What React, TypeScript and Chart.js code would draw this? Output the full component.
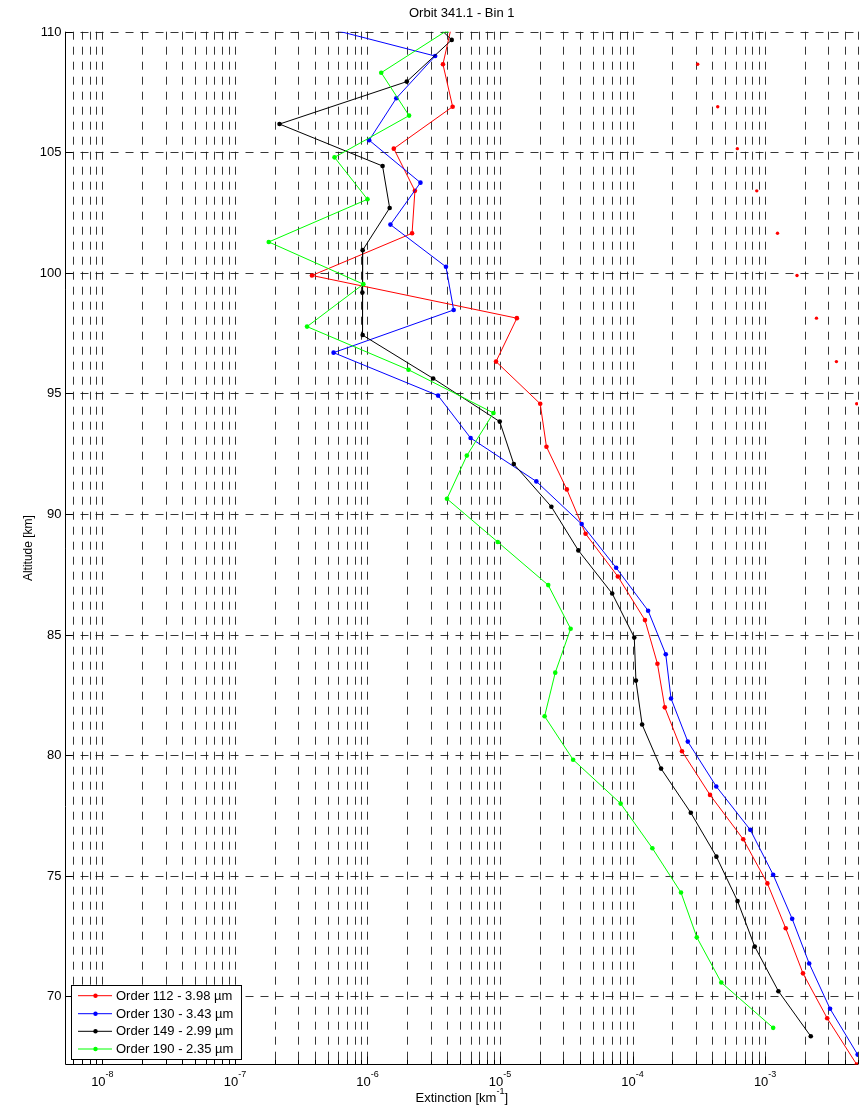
import React, { useEffect, useRef } from "react";
import { Chart, registerables } from "chart.js";

Chart.register(...registerables);

// ---- Text ----
const TITLE = "Orbit 341.1 - Bin 1";
const X_LABEL = "Extinction [km";
const X_LABEL_EXP = "-1";
const X_LABEL_END = "]";
const Y_LABEL = "Altitude [km]";

// ---- Axes ----
const X_MIN = 5.27e-9;
const X_MAX = 5.02e-3;
const Y_MIN = 67.17;
const Y_MAX = 110;
const Y_TICKS = [70, 75, 80, 85, 90, 95, 100, 105, 110];
const X_DECADES = [-8, -7, -6, -5, -4, -3];

// ---- Series ----
const SERIES_LABELS = [
  "Order 112 - 3.98 µm",
  "Order 130 - 3.43 µm",
  "Order 149 - 2.99 µm",
  "Order 190 - 2.35 µm",
];
const SERIES_COLORS = ["#ff0000", "#0000ff", "#000000", "#00ff00"];

// Order 112 (altitude km, extinction km^-1)
const ALT_112 = [110.41, 108.65, 106.89, 105.15, 103.4, 101.64, 99.89, 98.12, 96.32, 94.57, 92.79, 91.02, 89.18, 87.41, 85.6, 83.79, 81.98, 80.16, 78.35, 76.51, 74.68, 72.82, 70.95, 69.09, 67.17];
const EXT_112 = [4.38e-6, 3.71e-6, 4.39e-6, 1.58e-6, 2.28e-6, 2.17e-6, 3.81e-7, 1.34e-5, 9.33e-6, 2.01e-5, 2.24e-5, 3.19e-5, 4.42e-5, 7.74e-5, 1.24e-4, 1.54e-4, 1.75e-4, 2.36e-4, 3.84e-4, 6.84e-4, 1.04e-3, 1.43e-3, 1.93e-3, 2.94e-3, 4.91e-3];

// Order 112, loose markers (no connecting line)
const ALT_112_PTS = [108.65, 106.89, 105.15, 103.4, 101.64, 99.89, 98.12, 96.32, 94.57];
const EXT_112_PTS = [3.1e-4, 4.39e-4, 6.17e-4, 8.65e-4, 1.24e-3, 1.74e-3, 2.44e-3, 3.45e-3, 4.91e-3];

// Order 130
const ALT_130 = [110.73, 108.99, 107.24, 105.5, 103.74, 102.0, 100.25, 98.46, 96.69, 94.91, 93.15, 91.35, 89.58, 87.77, 85.99, 84.18, 82.35, 80.56, 78.7, 76.9, 75.04, 73.21, 71.36, 69.48, 67.58];
const EXT_130 = [1.93e-7, 3.24e-6, 1.65e-6, 1.03e-6, 2.51e-6, 1.49e-6, 3.91e-6, 4.47e-6, 5.55e-7, 3.41e-6, 6.0e-6, 1.88e-5, 4.13e-5, 7.52e-5, 1.31e-4, 1.78e-4, 1.95e-4, 2.61e-4, 4.28e-4, 7.73e-4, 1.15e-3, 1.6e-3, 2.15e-3, 3.09e-3, 4.99e-3];

// Order 149
const ALT_149 = [111.4, 109.66, 107.93, 106.17, 104.43, 102.69, 100.94, 99.18, 97.42, 95.62, 93.83, 92.07, 90.3, 88.49, 86.7, 84.88, 83.09, 81.27, 79.44, 77.61, 75.79, 73.95, 72.06, 70.21, 68.34];
const EXT_149 = [2.03e-6, 4.32e-6, 1.98e-6, 2.17e-7, 1.3e-6, 1.47e-6, 9.2e-7, 9.15e-7, 9.2e-7, 3.13e-6, 9.95e-6, 1.27e-5, 2.44e-5, 3.9e-5, 7.02e-5, 1.03e-4, 1.06e-4, 1.18e-4, 1.64e-4, 2.75e-4, 4.29e-4, 6.19e-4, 8.35e-4, 1.26e-3, 2.21e-3];

// Order 190
const ALT_190 = [110.05, 108.3, 106.52, 104.79, 103.05, 101.28, 99.53, 97.77, 95.98, 94.19, 92.42, 90.63, 88.84, 87.05, 85.24, 83.42, 81.61, 79.81, 77.99, 76.14, 74.3, 72.45, 70.57, 68.69];
const EXT_190 = [3.98e-6, 1.27e-6, 2.06e-6, 5.64e-7, 1.0e-6, 1.8e-7, 9.31e-7, 3.5e-7, 2.04e-6, 8.92e-6, 5.62e-6, 3.98e-6, 9.61e-6, 2.31e-5, 3.41e-5, 2.61e-5, 2.17e-5, 3.56e-5, 8.13e-5, 1.41e-4, 2.32e-4, 3.05e-4, 4.67e-4, 1.15e-3];

const FONT = '"Liberation Sans", Arial, Helvetica, sans-serif';
const GRID_COLOR = "rgba(20,20,20,0.85)";

const toPoints = (ext: number[], alt: number[]) => ext.map((v, i) => ({ x: v, y: alt[i] }));

function lineSet(label: string, color: string, ext: number[], alt: number[], order: number) {
  return {
    label,
    data: toPoints(ext, alt),
    borderColor: color,
    backgroundColor: color,
    borderWidth: 1,
    pointRadius: 2.3,
    pointBorderWidth: 0,
    pointBackgroundColor: color,
    showLine: true,
    tension: 0,
    clip: 0,
    order,
  };
}

// Grid, axes, labels, title and legend drawn MATLAB-style on top of Chart.js scales
const framePlugin = {
  id: "matlabFrame",
  beforeDatasetsDraw(chart: any) {
    const { ctx, chartArea: a, scales } = chart;
    const xs = scales.x;
    const ys = scales.y;
    ctx.save();
    ctx.lineWidth = 1;
    ctx.strokeStyle = GRID_COLOR;
    ctx.setLineDash([8, 7]);
    // vertical grid at every 1..9 x 10^n
    for (let d = -9; d <= -2; d++) {
      for (let m = 1; m <= 9; m++) {
        const v = m * Math.pow(10, d);
        if (v <= X_MIN || v >= X_MAX) continue;
        const px = Math.round(xs.getPixelForValue(v)) + 0.5;
        ctx.beginPath();
        ctx.moveTo(px, a.top);
        ctx.lineTo(px, a.bottom);
        ctx.stroke();
      }
    }
    // horizontal grid
    for (const t of Y_TICKS) {
      const py = Math.round(ys.getPixelForValue(t)) + 0.5;
      ctx.beginPath();
      ctx.moveTo(a.left, py);
      ctx.lineTo(a.right, py);
      ctx.stroke();
    }
    ctx.setLineDash([]);
    ctx.strokeStyle = "#000";
    // y ticks (inward)
    for (const t of Y_TICKS) {
      const py = Math.round(ys.getPixelForValue(t)) + 0.5;
      ctx.beginPath();
      ctx.moveTo(a.left, py);
      ctx.lineTo(a.left + 7, py);
      ctx.stroke();
    }
    // x ticks (inward)
    for (let d = -9; d <= -2; d++) {
      for (let m = 1; m <= 9; m++) {
        const v = m * Math.pow(10, d);
        if (v <= X_MIN || v >= X_MAX) continue;
        const px = Math.round(xs.getPixelForValue(v)) + 0.5;
        ctx.beginPath();
        ctx.moveTo(px, a.bottom);
        ctx.lineTo(px, a.bottom - (m === 1 ? 8 : 5));
        ctx.stroke();
      }
    }
    // axis lines
    ctx.beginPath();
    ctx.moveTo(a.left, a.top);
    ctx.lineTo(a.left, a.bottom);
    ctx.lineTo(a.right, a.bottom);
    ctx.stroke();
    ctx.restore();
  },
  afterDatasetsDraw(chart: any) {
    const { ctx, chartArea: a, scales } = chart;
    const xs = scales.x;
    const ys = scales.y;
    ctx.save();
    ctx.fillStyle = "#000";

    // title
    ctx.font = `13px ${FONT}`;
    ctx.textAlign = "center";
    ctx.textBaseline = "middle";
    ctx.fillText(TITLE, (a.left + a.right) / 2, 13);

    // y tick labels
    ctx.textAlign = "right";
    for (const t of Y_TICKS) {
      ctx.fillText(String(t), a.left - 4, ys.getPixelForValue(t) + 0.5);
    }

    // x tick labels 10^n
    ctx.textAlign = "left";
    for (const d of X_DECADES) {
      const px = xs.getPixelForValue(Math.pow(10, d));
      ctx.font = `13px ${FONT}`;
      const wb = ctx.measureText("10").width;
      ctx.font = `9px ${FONT}`;
      const exp = String(d);
      const we = ctx.measureText(exp).width;
      const x0 = px - (wb + we) / 2;
      ctx.font = `13px ${FONT}`;
      ctx.fillText("10", x0, a.bottom + 18);
      ctx.font = `9px ${FONT}`;
      ctx.fillText(exp, x0 + wb, a.bottom + 10);
    }

    // x axis label with superscript
    ctx.font = `13px ${FONT}`;
    const w1 = ctx.measureText(X_LABEL).width;
    const w3 = ctx.measureText(X_LABEL_END).width;
    ctx.font = `9px ${FONT}`;
    const w2 = ctx.measureText(X_LABEL_EXP).width;
    const cx = (a.left + a.right) / 2;
    const sx = cx - (w1 + w2 + w3) / 2;
    ctx.font = `13px ${FONT}`;
    ctx.fillText(X_LABEL, sx, a.bottom + 34);
    ctx.fillText(X_LABEL_END, sx + w1 + w2, a.bottom + 34);
    ctx.font = `9px ${FONT}`;
    ctx.fillText(X_LABEL_EXP, sx + w1, a.bottom + 27);

    // y axis label
    ctx.save();
    ctx.translate(29, (a.top + a.bottom) / 2);
    ctx.rotate(-Math.PI / 2);
    ctx.font = `12px ${FONT}`;
    ctx.textAlign = "center";
    ctx.textBaseline = "middle";
    ctx.fillText(Y_LABEL, 0, 0);
    ctx.restore();

    // legend
    const lx = 71.5;
    const ly = 985.5;
    const lw = 170;
    const lh = 74;
    ctx.fillStyle = "#fff";
    ctx.fillRect(lx, ly, lw, lh);
    ctx.strokeStyle = "#000";
    ctx.lineWidth = 1;
    ctx.strokeRect(lx, ly, lw, lh);
    const rows = [995.7, 1013.7, 1031.3, 1049];
    ctx.font = `13px ${FONT}`;
    ctx.textAlign = "left";
    ctx.textBaseline = "middle";
    SERIES_LABELS.forEach((label, i) => {
      const ry = rows[i];
      ctx.strokeStyle = SERIES_COLORS[i];
      ctx.beginPath();
      ctx.moveTo(78, ry);
      ctx.lineTo(112, ry);
      ctx.stroke();
      ctx.fillStyle = SERIES_COLORS[i];
      ctx.beginPath();
      ctx.arc(95.5, ry, 2.2, 0, Math.PI * 2);
      ctx.fill();
      ctx.fillStyle = "#000";
      ctx.fillText(label, 116, ry + 0.5);
    });
    ctx.restore();
  },
};

export default function App() {
  const canvasRef = useRef<HTMLCanvasElement | null>(null);

  useEffect(() => {
    const canvas = canvasRef.current;
    if (!canvas) return;
    const chart = new Chart(canvas, {
      type: "scatter",
      data: {
        datasets: [
          lineSet(SERIES_LABELS[3], SERIES_COLORS[3], EXT_190, ALT_190, 0),
          lineSet(SERIES_LABELS[2], SERIES_COLORS[2], EXT_149, ALT_149, 1),
          lineSet(SERIES_LABELS[1], SERIES_COLORS[1], EXT_130, ALT_130, 2),
          lineSet(SERIES_LABELS[0], SERIES_COLORS[0], EXT_112, ALT_112, 3),
          {
            label: "Order 112 points",
            data: toPoints(EXT_112_PTS, ALT_112_PTS),
            showLine: false,
            pointRadius: 1.7,
            pointBorderWidth: 0,
            pointBackgroundColor: SERIES_COLORS[0],
            backgroundColor: SERIES_COLORS[0],
            borderColor: SERIES_COLORS[0],
            clip: 0,
            order: 4,
          },
        ],
      } as any,
      options: {
        animation: false,
        responsive: false,
        maintainAspectRatio: false,
        events: [],
        layout: { padding: { top: 31.7, left: 0, right: 0, bottom: 0 } },
        plugins: {
          legend: { display: false },
          tooltip: { enabled: false },
          title: { display: false },
        },
        scales: {
          x: {
            type: "logarithmic",
            bounds: "data",
            min: X_MIN,
            max: X_MAX,
            ticks: { display: false },
            grid: { display: false },
            border: { display: false },
            afterFit: (s: any) => {
              s.height = 46.5;
            },
          },
          y: {
            type: "linear",
            bounds: "data",
            min: Y_MIN,
            max: Y_MAX,
            ticks: { display: false },
            grid: { display: false },
            border: { display: false },
            afterFit: (s: any) => {
              s.width = 65.5;
            },
          },
        },
      } as any,
      plugins: [framePlugin],
    });
    return () => chart.destroy();
  }, []);

  return (
    <div style={{ position: "absolute", left: 0, top: 0, width: 862, height: 1111, background: "#fff" }}>
      <canvas ref={canvasRef} width={862} height={1111} style={{ display: "block" }} />
    </div>
  );
}
